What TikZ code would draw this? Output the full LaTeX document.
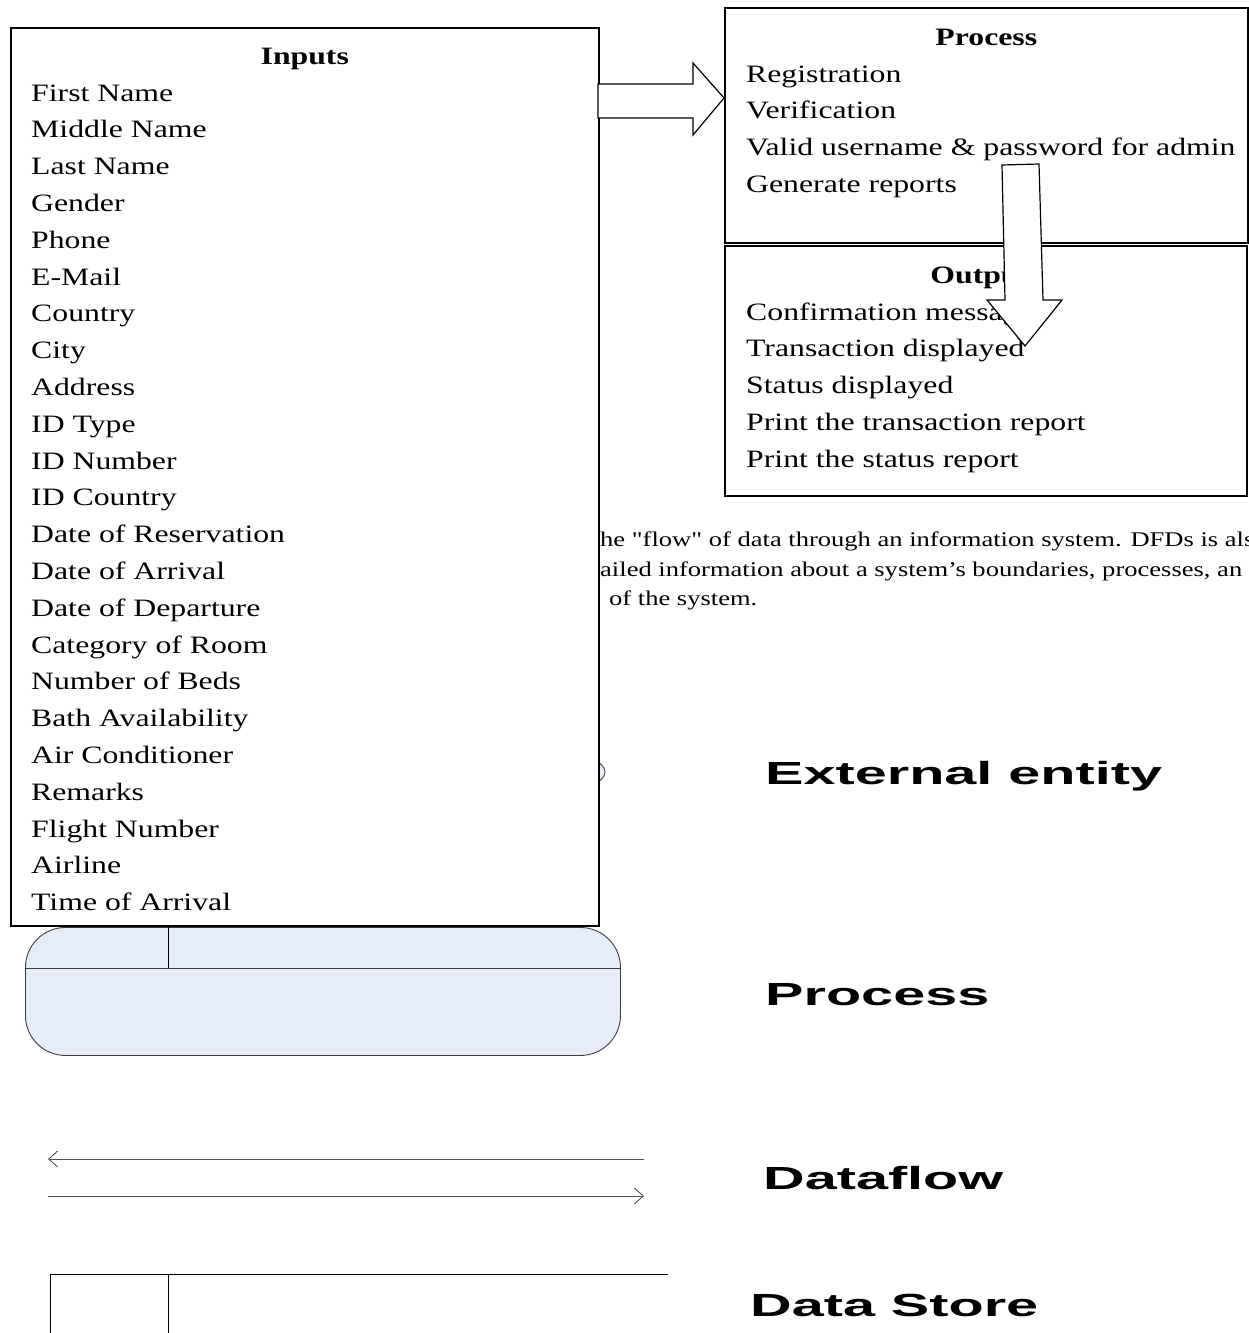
\documentclass[tikz,border=0pt]{standalone}
\usepackage{fontspec}
\setmainfont{Liberation Serif}
\newfontfamily\docfont[FakeStretch=1.27]{Liberation Serif}
\newfontfamily\tagfont[FakeStretch=1.8]{Liberation Sans}
\usetikzlibrary{positioning,calc,arrows.meta}
\definecolor{symfill}{RGB}{230,237,248}
\definecolor{symline}{RGB}{60,60,60}
\definecolor{flowline}{RGB}{80,80,80}

\tikzset{
	frame/.style={draw=black, line width=1.6pt, fill=white, inner sep=0pt},
	list/.style={align=left, anchor=north west, inner sep=0pt, font=\docfont\fontsize{25}{36.8}\selectfont},
	head/.style={anchor=base, inner sep=0pt, font=\docfont\bfseries\fontsize{25}{30}\selectfont},
	paraline/.style={anchor=base west, inner sep=0pt, font=\docfont\fontsize{20.9}{29}\selectfont},
	tag/.style={anchor=base west, inner sep=0pt, font=\tagfont\bfseries\fontsize{32}{36}\selectfont},
	symbol/.style={draw=symline, line width=0.9pt, fill=symfill},
	blockarrow/.style={draw=black, line width=1.2pt, fill=white, line join=miter},
	flow/.style={draw=flowline, line width=0.9pt},
}

\begin{document}
\begin{tikzpicture}[x=1pt, y=-1pt]
		\useasboundingbox (0,0) rectangle (1249,1333);
		\clip (0,0) rectangle (1249,1333);
		%
		% text of the page behind the boxes
		\node[paraline] (para1) at (600,546) {he "flow" of data through an information system. DFDs is als};
		\node[paraline] (para2) at (600,576) {ailed information about a system’s boundaries, processes, an};
		\node[paraline] (para3) at (609,605) {of the system.};
		%
		% symbols
		\draw[symbol] (330,772) ellipse [x radius=275, y radius=45];
		\node[symbol, rounded corners=40pt, minimum width=595pt, minimum height=128pt, anchor=north west] (procsym) at (25,927) {};
		\draw[symbol, fill=none] ($(procsym.north west)+(0,41)$) coordinate (pdl) -- ($(procsym.north east)+(0,41)$) coordinate (pdr);
		\draw[black, line width=0.9pt] (168,927) coordinate (pvt) -- (pvt |- pdl);
		%
		\coordinate (fl1a) at (644,1159);
		\coordinate (fl1b) at (48,1159);
		\coordinate (fl2a) at (48,1196);
		\coordinate (fl2b) at (644,1196);
		\draw[flow, -{Straight Barb[length=9pt, width=16pt]}] (fl1a) -- (fl1b);
		\draw[flow, -{Straight Barb[length=9pt, width=16pt]}] (fl2a) -- (fl2b);
		%
		\coordinate (ds1) at (50,1340);
		\coordinate (ds2) at (50,1274);
		\coordinate (ds3) at (668,1274);
		\coordinate (ds4) at (168,1274);
		\draw[black, line width=0.9pt] (ds1) -- (ds2) -- (ds3);
		\draw[black, line width=0.9pt] (ds4) -- (ds4 |- ds1);
		%
		\node[tag] (tagext) at (765,784) {External entity};
		\node[tag] (tagproc) at (765,1005) {Process};
		\node[tag] (tagflow) at (763,1189) {Dataflow};
		\node[tag] (tagstore) at (750,1316) {Data Store};
		%
		% inputs
		\node[frame, minimum width=588pt, minimum height=898pt, anchor=north west] (inbox) at (10,27) {};
		\node[head] (intitle) at ($(inbox.north)+(0,37)$) {Inputs};
		\node[list] (inlist) at (31,75.2) {\strut First Name\\ Middle Name\\ Last Name\\ Gender\\ Phone\\ E-Mail\\
			Country\\ City\\ Address\\ ID Type\\ ID Number\\ ID Country\\ Date of Reservation\\ Date of Arrival\\
			Date of Departure\\ Category of Room\\ Number of Beds\\ Bath Availability\\ Air Conditioner\\ Remarks\\
			Flight Number\\ Airline\\ Time of Arrival};
		%
		% process
		\node[frame, minimum width=523pt, minimum height=235pt, anchor=north west] (procbox) at (724,7) {};
		\node[head] (proctitle) at ($(procbox.north)+(0,38)$) {Process};
		\node[list] (proclist) at (746,56.2) {\strut Registration\\ Verification\\ Valid username \& password for admin\\ Generate reports};
		%
		% output
		\node[frame, minimum width=522pt, minimum height=250pt, anchor=north west] (outbox) at (724,245) {};
		\node[head] (outtitle) at ($(outbox.north)+(-6,38)$) {Output};
		\node[list] (outlist) at (746,294.2) {\strut Confirmation message\\ Transaction displayed\\ Status displayed\\
			Print the transaction report\\ Print the status report};
		%
		% block arrows
		\draw[blockarrow] (598,84) -- (693,84) -- (693,63) -- (724,98) -- (693,135) -- (693,118) -- (598,118) -- cycle;
		\draw[blockarrow] (1002,165) -- (1039,164) -- (1043,300) -- (1062,300) -- (1025,346) -- (987,300) -- (1005,300) -- cycle;
	\end{tikzpicture}
\end{document}
